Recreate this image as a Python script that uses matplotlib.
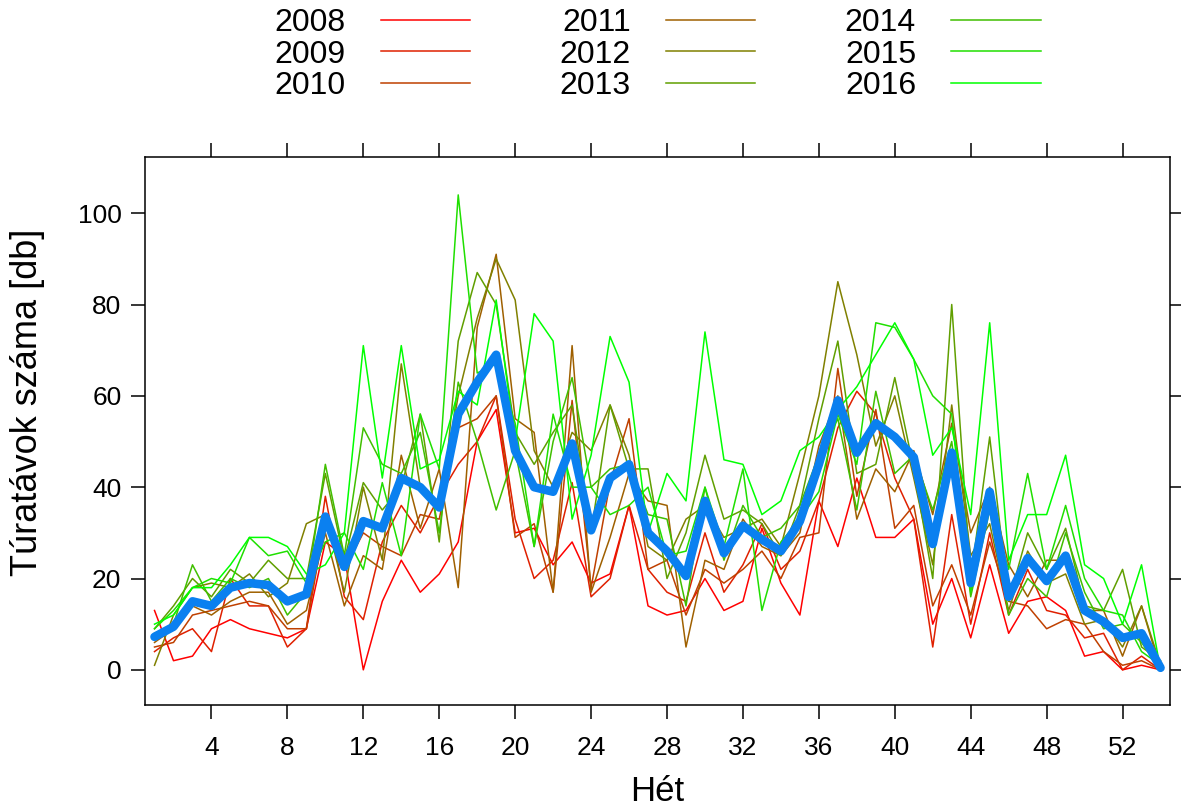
import numpy as np
import matplotlib
matplotlib.use("Agg")
import matplotlib.pyplot as plt

plt.rcParams['font.family'] = ['Liberation Sans', 'DejaVu Sans']

weeks = np.arange(1, 55)
years = ["2008", "2009", "2010", "2011", "2012", "2013", "2014", "2015", "2016"]

# weekly counts per year, one row per week:
# 2008, 2009, 2010, 2011, 2012, 2013, 2014, 2015, 2016
counts_by_week = [
    [13, 4, 5, 6, 1, 9, 8, 9, 10],
    [2, 7, 6, 9, 12, 14, 10, 13, 12],
    [3, 9, 12, 14, 18, 20, 23, 18, 18],
    [9, 4, 13, 12, 19, 16, 15, 20, 18],
    [11, 20, 14, 15, 18, 22, 20, 19, 23],
    [9, 14, 15, 17, 21, 19, 18, 29, 29],
    [8, 14, 14, 17, 16, 24, 20, 25, 29],
    [7, 5, 9, 10, 19, 20, 12, 26, 27],
    [9, 9, 9, 13, 32, 20, 17, 19, 21],
    [28, 38, 33, 30, 34, 43, 45, 28, 23],
    [25, 16, 22, 14, 17, 24, 25, 30, 30],
    [0, 11, 30, 25, 40, 41, 53, 22, 71],
    [15, 28, 27, 22, 24, 35, 45, 41, 42],
    [24, 36, 25, 47, 67, 40, 43, 25, 71],
    [17, 30, 34, 31, 40, 56, 52, 56, 44],
    [21, 38, 33, 44, 36, 28, 30, 44, 46],
    [28, 45, 53, 18, 60, 72, 63, 104, 61],
    [50, 50, 55, 75, 77, 87, 50, 65, 58],
    [57, 60, 60, 91, 90, 80, 35, 67, 81],
    [30, 33, 29, 55, 81, 52, 48, 54, 50],
    [31, 20, 32, 52, 48, 45, 27, 27, 78],
    [23, 24, 17, 17, 40, 52, 50, 56, 72],
    [28, 41, 59, 71, 52, 58, 64, 40, 33],
    [19, 16, 18, 17, 48, 30, 40, 40, 47],
    [21, 20, 41, 29, 58, 58, 44, 34, 73],
    [36, 36, 55, 43, 47, 44, 45, 36, 63],
    [14, 22, 22, 37, 27, 44, 34, 40, 30],
    [12, 17, 24, 36, 24, 20, 33, 25, 43],
    [13, 15, 12, 5, 33, 30, 14, 26, 37],
    [20, 30, 22, 24, 36, 47, 40, 40, 74],
    [13, 17, 19, 22, 29, 33, 24, 27, 46],
    [15, 23, 22, 33, 31, 35, 36, 44, 45],
    [31, 32, 26, 27, 33, 32, 29, 13, 34],
    [19, 22, 20, 25, 27, 25, 31, 28, 37],
    [12, 26, 29, 30, 43, 36, 36, 33, 48],
    [37, 37, 30, 49, 60, 55, 47, 39, 51],
    [27, 53, 66, 60, 85, 72, 55, 56, 57],
    [42, 61, 38, 33, 69, 43, 35, 45, 62],
    [29, 56, 57, 44, 49, 45, 61, 76, 69],
    [29, 42, 31, 39, 60, 64, 43, 75, 76],
    [33, 33, 36, 48, 42, 44, 47, 68, 68],
    [10, 5, 14, 34, 23, 20, 35, 60, 47],
    [20, 34, 23, 54, 58, 80, 50, 56, 53],
    [7, 10, 12, 30, 25, 20, 16, 17, 34],
    [23, 30, 28, 40, 32, 51, 35, 36, 76],
    [8, 12, 15, 23, 13, 15, 12, 22, 24],
    [15, 22, 14, 16, 26, 30, 20, 43, 34],
    [16, 13, 9, 24, 19, 22, 16, 22, 34],
    [13, 12, 11, 24, 21, 31, 30, 36, 47],
    [3, 7, 10, 13, 10, 14, 17, 20, 23],
    [4, 8, 4, 13, 11, 13, 9, 13, 20],
    [0, 0, 1, 3, 5, 22, 10, 12, 10],
    [1, 3, 2, 14, 14, 5, 6, 4, 23],
    [0, 0, 0, 0, 1, 2, 0, 1, 0],
]
counts = np.array(counts_by_week, dtype=float)
mean_counts = counts.mean(axis=1)

# red -> green ramp
n = len(years)
colors = [((255 - 255 * i / (n - 1)) / 255, (255 * i / (n - 1)) / 255, 0) for i in range(n)]

fig = plt.figure(figsize=(11.81, 8.11), dpi=100)
ax = fig.add_axes([0.1228, 0.1307, 0.8679, 0.6757])

for i, yr in enumerate(years):
    ax.plot(weeks, counts[:, i], color=colors[i], lw=1.1, label=yr)
ax.plot(weeks, mean_counts, color='#0a80f0', lw=6.2, solid_capstyle='round',
        solid_joinstyle='round')

ax.set_xlim(0.5, 54.5)
ax.set_ylim(-7.7, 112.3)
ax.set_xticks(np.arange(4, 53, 4))
ax.set_yticks(np.arange(0, 101, 20))
ax.tick_params(axis='both', which='both', direction='out', length=10, width=1.1,
               labelsize=19, top=True, right=True, labeltop=False, labelright=False)
ax.tick_params(axis='x', pad=12)
ax.tick_params(axis='y', pad=7)
for s in ax.spines.values():
    s.set_linewidth(1.1)

ax.set_xlabel("Hét", fontsize=25, labelpad=11)
ax.set_ylabel("Túratávok száma [db]", fontsize=26)
ax.yaxis.set_label_coords(-0.098, 0.553)

fig.legend(loc='upper center', bbox_to_anchor=(0.5567, 0.994), ncol=3, frameon=False,
           markerfirst=False, fontsize=23, handlelength=2.8, handletextpad=1.1,
           columnspacing=2.8, labelspacing=0.05, borderaxespad=0, borderpad=0.1)

fig.savefig("out.png", dpi=100)
